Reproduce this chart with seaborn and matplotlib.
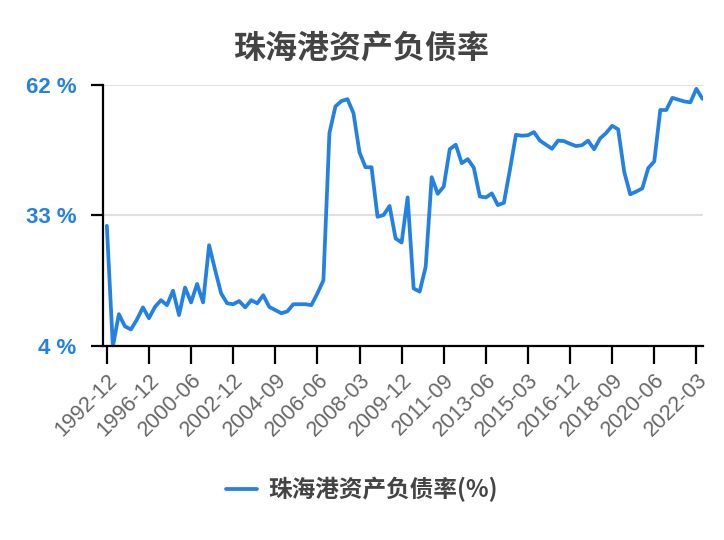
import matplotlib
matplotlib.use("Agg")
import matplotlib.pyplot as plt
import pandas as pd
import seaborn as sns

# categories: half-yearly / yearly early on, quarterly from 2002-12
datas_iniciais = ["1992-12", "1993-12", "1994-06", "1994-12", "1995-06", "1995-12", "1996-06",
                  "1996-12", "1997-06", "1997-12", "1998-06", "1998-12", "1999-06", "1999-12",
                  "2000-06", "2000-12", "2001-06", "2001-12", "2002-03", "2002-06", "2002-09"]
datas_trimestrais = [p.strftime("%Y-%m") for p in pd.period_range("2002-12", "2022-06", freq="Q-DEC")]
datas = datas_iniciais + datas_trimestrais

taxa = [30.7, 3.9, 11.1, 8.4, 7.7, 9.9, 12.6, 10.2, 12.7, 14.2,
        13.1, 16.3, 10.9, 17.0, 13.7, 17.8, 13.7, 26.4, 20.9, 15.7,
        13.5, 13.3, 14.0, 12.6, 14.2, 13.5, 15.3, 12.7, 12.0, 11.3,
        11.7, 13.3, 13.3, 13.3, 13.1, 15.7, 18.6, 51.3, 57.2, 58.4,
        58.8, 55.7, 47.0, 43.7, 43.7, 32.7, 33.1, 35.1, 27.9, 27.0,
        37.0, 16.8, 16.1, 21.6, 41.5, 37.8, 39.4, 47.7, 48.7, 44.6,
        45.5, 43.6, 37.2, 37.0, 37.9, 35.3, 35.8, 43.1, 50.9, 50.7,
        50.8, 51.5, 49.6, 48.7, 47.8, 49.6, 49.5, 48.9, 48.4, 48.6,
        49.6, 47.7, 50.1, 51.3, 52.9, 52.1, 42.7, 37.7, 38.3, 39.0,
        43.5, 45.0, 56.4, 56.4, 59.1, 58.7, 58.3, 58.1, 61.1, 58.9]

y_ticks = [4, 33, 62]
serie = "珠海港资产负债率(%)"
titulo = "珠海港资产负债率"

df = pd.DataFrame({"data": datas, "taxa": taxa})

sns.set_style("white")
plt.rcParams["font.family"] = ["Noto Sans CJK SC", "DejaVu Sans"]

fig = plt.figure(figsize=(7.24, 5.4), dpi=100)
ax = fig.add_axes([0.142, 0.359, 0.829, 0.484])

sns.lineplot(data=df, x="data", y="taxa", ax=ax, color="#2281e3", linewidth=2.7,
             label=serie, legend=False, sort=False)

ax.set_xlim(-0.67, 99.1)
ax.set_ylim(4, 62)
ax.set_yticks(y_ticks)
ax.set_yticklabels([f"{v} %" for v in y_ticks], color="#2281e3", fontsize=16,
                   fontweight="bold", family=["Liberation Sans Narrow", "Liberation Sans", "DejaVu Sans"])
pos = list(range(0, len(datas), 7))
ax.set_xticks(pos)
ax.set_xticklabels([datas[i] for i in pos], rotation=45, ha="right", rotation_mode="anchor",
                   color="#666666", fontsize=15.5, family=["Liberation Sans", "DejaVu Sans"])
ax.tick_params(axis="x", bottom=True, length=13, width=1.6, color="black", pad=4)
ax.tick_params(axis="y", left=True, length=9, width=1.6, color="black", pad=10)

ax.grid(axis="y", color="#e0e0e0", linewidth=1.5)
ax.grid(axis="x", visible=False)
ax.set_axisbelow(True)
for lado in ["top", "right"]:
    ax.spines[lado].set_visible(False)
for lado in ["left", "bottom"]:
    ax.spines[lado].set_color("black")
    ax.spines[lado].set_linewidth(1.6)
ax.set_xlabel("")
ax.set_ylabel("")

fig.suptitle(titulo, x=0.5, y=0.94, fontsize=23, fontweight="bold", color="#444444")

h, l = ax.get_legend_handles_labels()
leg = fig.legend(h, l, loc="center", bbox_to_anchor=(0.5, 0.093), frameon=False,
                 prop={"size": 17, "weight": "bold"}, handlelength=1.3, handletextpad=0.5)
for t in leg.get_texts():
    t.set_color("#444444")

fig.savefig("out.png", dpi=100)
